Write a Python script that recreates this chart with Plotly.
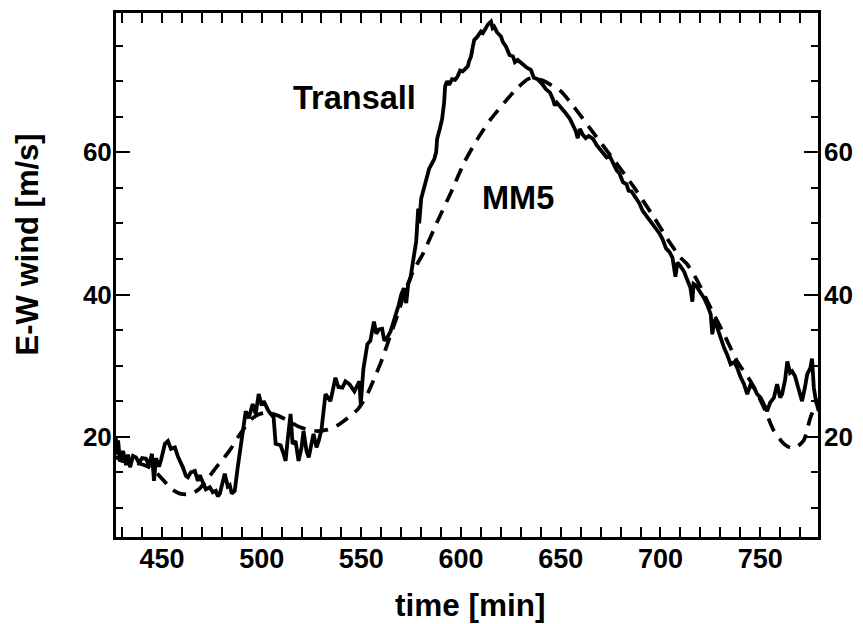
import plotly.graph_objects as go

# Transall (aircraft) E-W wind
transall_t = [426.8, 427.5, 428, 429, 430.5, 432, 433, 434, 435.5, 437, 438.5, 440, 442, 443.5, 445, 446, 447,
              448.5, 449.5, 451.5, 453, 454.5, 456.5, 458, 460.5, 462, 463, 464.5, 466.5, 468, 469, 470.5, 472,
              474, 475.5, 477, 478, 479, 481.5, 483, 484, 485, 486.5, 488, 489.8, 491, 492, 493.5, 495.5, 497,
              498.5, 500, 501, 503.5, 506, 507, 509.5, 511, 512, 513, 514.5, 515.5, 517, 518.5, 520, 521, 522.5,
              523.6, 525, 526, 527.5, 528.6, 530, 532, 534.5, 536, 537, 538.5, 540.5, 542, 544, 546.5, 549,
              549.7, 551, 553, 554.5, 556.3, 557.5, 558.8, 560.4, 561.5, 562.9, 564.6, 566.3, 567.5, 568.8,
              570, 571.3, 572.5, 573.5, 574.6, 575.5, 576.3, 577.5, 578.5, 579, 580, 581.6, 583, 584, 585.5,
              586.6, 587.5, 588, 589.5, 590.5, 591.5, 592, 593, 594, 595.5, 597, 598.3, 599.5, 600.8, 602,
              603.4, 604, 605, 606, 606.6, 608, 610, 611, 612.5, 613.5, 615, 615.8, 616.6, 618, 620, 621,
              622.5, 623.5, 624.3, 626, 627, 628.4, 630, 631.8, 633, 635, 636.5, 638.4, 639.6, 641, 642.5,
              644.6, 646, 647, 648, 649.6, 651, 652.5, 654.6, 656, 657.5, 658.5, 659.6, 661, 662.5, 664,
              666.2, 668, 669.5, 671.2, 673, 674.5, 676.2, 678, 679.5, 681.2, 683, 684, 685.5, 687.8, 689.5,
              691, 692.8, 694.5, 696, 697.8, 699.5, 701, 702.8, 704.5, 706, 707.5, 708.5, 710, 711.9, 713.5,
              715, 716, 716.6, 717.7, 719.5, 721.9, 723.5, 725.2, 726, 727, 728.5, 730, 731.9, 733.5, 735.2,
              737, 738.5, 740, 741.9, 743.5, 745, 746.9, 748.5, 750.2, 752, 753.5, 755, 756.9, 758.5, 760,
              761, 762.5, 763.6, 765, 766, 767.5, 768.6, 770, 771, 772.5, 773.6, 775.2, 776, 776.9, 778,
              779.4]
transall_v = [20.0, 17.5, 19.5, 16.5, 18.0, 16.0, 17.5, 15.7, 17.3, 17.1, 16.3, 17.0, 16.9, 16.0, 17.6, 13.8, 17.0,
              15.8, 16.7, 19.0, 19.4, 18.3, 18.5, 17.2, 15.7, 14.5, 14.3, 15.0, 15.2, 13.8, 14.6, 13.4, 12.6,
              12.9, 12.2, 12.4, 11.6, 12.0, 14.8, 13.0, 13.2, 12.0, 12.4, 15.7, 19.4, 21.0, 23.6, 22.6, 24.6,
              23.2, 26.0, 24.4, 25.0, 23.6, 22.7, 19.0, 18.8, 17.6, 16.6, 19.5, 23.2, 19.0, 19.4, 16.6, 18.5,
              20.8, 18.0, 17.1, 19.5, 20.4, 18.5, 19.4, 21.0, 26.0, 25.0, 27.0, 28.3, 27.0, 26.9, 27.8, 27.4,
              26.4, 27.8, 24.6, 29.5, 33.0, 33.5, 36.2, 34.5, 35.1, 35.2, 33.5, 33.9, 34.8, 36.2, 37.5, 38.6,
              40.0, 40.9, 38.8, 41.5, 42.3, 44.0, 45.1, 47.5, 52.1, 50.0, 53.5, 55.3, 56.5, 57.7, 58.5, 59.1,
              60.0, 61.9, 63.5, 64.7, 67.0, 69.3, 70.0, 69.5, 70.3, 70.2, 70.7, 71.5, 71.4, 71.8, 72.1, 72.8,
              73.5, 75.0, 75.8, 76.2, 77.0, 76.8, 77.7, 78.0, 78.4, 77.5, 77.7, 76.9, 76.3, 75.5, 74.9, 74.0,
              73.7, 73.5, 72.7, 73.0, 72.6, 72.3, 71.9, 71.6, 70.5, 70.3, 70.0, 69.5, 68.9, 68.4, 67.5, 66.6,
              67.0, 66.5, 66.0, 65.5, 64.7, 64.0, 63.0, 62.0, 63.3, 62.5, 62.0, 62.3, 61.9, 61.0, 60.5, 60.0,
              59.3, 59.5, 58.6, 57.5, 57.0, 55.8, 55.5, 54.6, 54.5, 53.5, 52.8, 51.8, 51.1, 50.5, 50.0, 49.3,
              48.6, 47.8, 46.5, 46.0, 45.2, 42.5, 44.5, 44.0, 43.2, 42.0, 41.0, 39.0, 41.5, 41.3, 40.5, 39.5,
              38.5, 37.2, 34.4, 36.5, 35.3, 34.0, 32.5, 31.5, 30.2, 30.5, 29.7, 28.5, 27.4, 26.0, 27.2, 26.9,
              26.0, 25.5, 24.5, 23.6, 24.8, 25.5, 27.4, 25.5, 26.0, 28.0, 30.6, 29.0, 29.2, 28.5, 27.4, 26.0,
              25.0, 27.0, 28.8, 29.7, 31.0, 26.9, 25.0, 23.6]

# MM5 model E-W wind
mm5_t = [426.8, 430, 434, 439, 443, 447, 451, 455, 459, 462, 465, 468, 471, 474, 477.5, 481, 484.5, 488, 491.5,
         495, 499, 503.5, 508, 513, 518, 523, 528, 533, 538, 543, 548, 551, 553.5, 556.6, 560, 564, 568, 572,
         576, 581, 588, 595, 601.6, 608.3, 615, 621.7, 628.4, 633.5, 637, 641, 645, 650, 656.3, 666.2, 676.2,
         686.2, 696.2, 704.5, 710, 713, 718, 725.2, 731.9, 738.5, 745.2, 751.9, 756.9, 761.9, 765, 768,
         771.9, 775.2, 779.0]
mm5_v = [17.2, 16.6, 16.5, 16.2, 15.8, 15.0, 13.8, 12.6, 12.0, 11.9, 12.0, 12.5, 13.4, 14.5, 15.8, 17.0, 18.3,
         19.9, 21.3, 22.5, 23.2, 23.4, 23.0, 22.3, 21.5, 21.0, 20.8, 21.0, 21.6, 22.6, 23.8, 25.0, 26.3, 28.3,
         30.6, 33.8, 37.0, 40.5, 43.3, 45.8, 50.2, 54.4, 58.6, 61.9, 64.7, 67.0, 69.1, 70.3, 70.5, 70.1, 69.5,
         68.6, 66.5, 62.8, 59.1, 55.3, 51.1, 47.4, 45.2, 44.4, 42.2, 38.1, 34.4, 30.6, 27.8, 24.1, 20.8, 19.0,
         18.5, 18.5, 19.5, 22.7, 25.3]

x_range = [426.95, 779.0]
y_range = [5.9, 79.6]
x_ticks = [450, 500, 550, 600, 650, 700, 750]
y_ticks = [20, 40, 60]

labels = ["Transall", "MM5"]
label_t = [546.6, 628.3]
label_v = [67.6, 53.6]

FONT = "Liberation Sans"

fig = go.Figure()
fig.add_trace(go.Scatter(x=transall_t, y=transall_v, mode="lines",
                         line=dict(color="black", width=3.8), showlegend=False))
fig.add_trace(go.Scatter(x=mm5_t, y=mm5_v, mode="lines", yaxis="y2",
                         line=dict(color="black", width=3.7, dash="14px,9px", shape="spline", smoothing=0.6),
                         showlegend=False))

for txt, t, v in zip(labels, label_t, label_v):
    fig.add_annotation(x=t, y=v, text=txt, showarrow=False, xanchor="center", yanchor="middle",
                       font=dict(family=FONT, size=32.5, color="black", weight="bold"))

fig.add_annotation(x=(473 - 116) / 707.3, y=(536.7 - 605) / 526.7, xref="paper", yref="paper",
                   text="time [min]", showarrow=False, xanchor="center", yanchor="middle",
                   font=dict(family=FONT, size=31.5, color="black", weight="bold"))
fig.add_annotation(x=(27 - 116) / 707.3, y=(536.7 - 243) / 526.7, xref="paper", yref="paper",
                   text="E-W wind [m/s]", showarrow=False, textangle=-90, xanchor="center", yanchor="middle",
                   font=dict(family=FONT, size=31, color="black", weight="bold"))

fig.update_layout(
    width=863, height=624,
    margin=dict(l=116, r=40, t=10, b=87, pad=0),
    paper_bgcolor="white", plot_bgcolor="white",
    xaxis=dict(range=x_range, tickvals=x_ticks, ticks="inside", ticklen=10, tickwidth=2,
               tickcolor="black", showline=True, linecolor="black", linewidth=3, mirror="allticks",
               showgrid=False, zeroline=False, ticklabelstandoff=-4,
               minor=dict(dtick=10, tick0=0, ticks="inside", ticklen=5, tickwidth=2, tickcolor="black",
                          showgrid=False),
               tickfont=dict(family=FONT, size=27, color="black", weight="bold")),
    yaxis=dict(range=y_range, tickvals=y_ticks, ticks="inside", ticklen=14, tickwidth=2,
               tickcolor="black", showline=True, linecolor="black", linewidth=3, mirror="allticks",
               showgrid=False, zeroline=False, ticklabelstandoff=-4,
               minor=dict(dtick=5, tick0=0, ticks="inside", ticklen=7, tickwidth=2, tickcolor="black",
                          showgrid=False),
               tickfont=dict(family=FONT, size=26, color="black", weight="bold")),
    yaxis2=dict(range=y_range, tickvals=y_ticks, overlaying="y", side="right", ticks="",
                showline=False, showgrid=False, zeroline=False, ticklabelstandoff=5,
                tickfont=dict(family=FONT, size=26, color="black", weight="bold")),
)

fig.write_html("out.html")
